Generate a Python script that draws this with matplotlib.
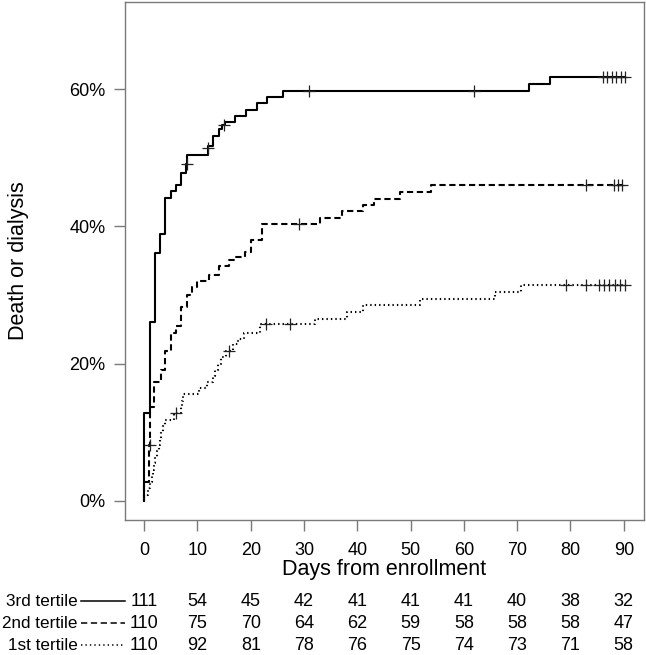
import matplotlib
matplotlib.use("Agg")
import matplotlib.pyplot as plt
import matplotlib.transforms as mtransforms
from matplotlib.lines import Line2D
from matplotlib.ticker import FuncFormatter

plt.rcParams['font.family'] = ['Liberation Sans', 'DejaVu Sans']
plt.rcParams['lines.scale_dashes'] = False

# ---- data (day, cumulative % after step) ----
t3_times = [0, 1.0, 2.0, 3.0, 4.0, 5.0, 6.0, 7.0, 7.9, 8.05, 12.05, 12.9, 14.0, 14.6, 15.2,
            17.1, 19.1, 21.1, 23.0, 26.1, 72.2, 76.1]
t3_vals = [12.8, 26.1, 36.1, 38.9, 44.1, 45.1, 46.0, 47.8, 49.1, 50.4, 51.7, 53.2, 54.2, 54.7, 55.2,
           56.1, 57.0, 58.0, 58.9, 59.8, 60.8, 61.8]
t3_cens_t = [8.0, 12.0, 15.0, 31.0, 61.9, 86.1, 86.9, 87.8, 88.6, 89.4, 90.2]
t3_cens_v = [49.1, 51.4, 54.7, 59.8, 59.8, 61.8, 61.8, 61.8, 61.8, 61.8, 61.8]

t2_times = [0, 0.95, 1.05, 1.9, 3.1, 4.0, 5.0, 6.0, 7.0, 8.0, 9.0, 10.0, 12.1, 14.0, 16.0,
            17.1, 19.0, 20.0, 22.1, 33.0, 37.1, 41.1, 43.2, 48.1, 53.9]
t2_vals = [2.7, 8.2, 13.6, 17.3, 19.1, 21.8, 24.5, 25.5, 28.2, 30.0, 31.2, 32.1, 32.9, 34.2, 35.1,
           35.6, 36.3, 38.0, 40.3, 41.2, 42.2, 43.1, 44.0, 45.0, 46.0]
t2_cens_t = [1.0, 29.1, 83.0, 88.2, 88.9, 89.7]
t2_cens_v = [8.2, 40.3, 46.0, 46.0, 46.0, 46.0]

t1_times = [0, 0.7, 1.0, 1.4, 1.7, 1.9, 2.1, 2.4, 2.8, 3.0, 3.2, 3.5, 3.9, 5.6, 7.0, 7.1, 7.2,
            10.2, 11.8, 13.0, 13.2, 13.9, 14.5, 15.3, 16.6, 17.6, 18.8, 21.8,
            32.1, 38.0, 41.1, 51.8, 65.8, 70.8]
t1_vals = [0.9, 1.8, 2.7, 3.6, 4.5, 5.5, 6.4, 7.3, 8.2, 9.1, 10.0, 10.9, 11.8, 12.8, 13.7, 14.6, 15.5,
           16.4, 17.3, 18.2, 19.1, 20.0, 20.9, 21.9, 22.8, 23.6, 24.4, 25.7,
           26.5, 27.5, 28.5, 29.4, 30.4, 31.4]
t1_cens_t = [6.0, 16.0, 22.9, 27.3, 79.1, 83.0, 85.3, 86.3, 87.3, 88.3, 89.3, 90.2]
t1_cens_v = [12.8, 21.9, 25.7, 25.7, 31.4, 31.4, 31.4, 31.4, 31.4, 31.4, 31.4, 31.4]

x_ticks = [0, 10, 20, 30, 40, 50, 60, 70, 80, 90]
y_ticks = [0, 20, 40, 60]
group_labels = ['3rd tertile', '2nd tertile', '1st tertile']
at_risk = [
    [111, 54, 45, 42, 41, 41, 41, 40, 38, 32],
    [110, 75, 70, 64, 62, 59, 58, 58, 58, 47],
    [110, 92, 81, 78, 76, 75, 74, 73, 71, 58],
]

# ---- figure ----
W, H = 646, 655
fig = plt.figure(figsize=(W / 100, H / 100), dpi=100)
ax = fig.add_axes([125 / W, 1 - 520 / H, 519 / W, 518 / H])

styles = [dict(linestyle='-'), dict(dashes=[4.5, 2.6]), dict(dashes=[1.0, 2.2])]
series = [(t3_times, t3_vals, t3_cens_t, t3_cens_v),
          (t2_times, t2_vals, t2_cens_t, t2_cens_v),
          (t1_times, t1_vals, t1_cens_t, t1_cens_v)]
for (tt, vv, ct, cv), st in zip(series, styles):
    end_t = max(ct)
    xs = [0] + list(tt) + [end_t]
    ys = [0] + list(vv) + [vv[-1]]
    ax.step(xs, ys, where='post', color='black', lw=1.5, **st)
    ax.plot(ct, cv, linestyle='none', marker='+', markersize=9, mew=0.9, color='#222222')

ax.set_xlim(-3.6, 93.8)
ax.set_ylim(-2.8, 72.7)
ax.set_xticks(x_ticks)
ax.set_yticks(y_ticks)
ax.yaxis.set_major_formatter(FuncFormatter(lambda v, p: f"{int(v)}%"))
for s in ax.spines.values():
    s.set_color('#7a7a7a')
    s.set_linewidth(1.0)
ax.tick_params(axis='both', direction='out', length=8, width=1.0, color='#7a7a7a',
               labelsize=13, pad=6)
ax.tick_params(axis='x', pad=8)
ax.set_xlabel('Days from enrollment', fontsize=15.5, labelpad=0)
ax.set_ylabel('Death or dialysis', fontsize=15.5, labelpad=29)

# ---- risk table ----
trans = mtransforms.blended_transform_factory(ax.transData, fig.transFigure)
row_y = [601, 623, 645]
for lab, counts, ry, st in zip(group_labels, at_risk, row_y, styles):
    yf = 1 - ry / H
    fig.text(78 / W, yf, lab, ha='right', va='center', fontsize=12.3)
    fig.add_artist(Line2D([81 / W, 125 / W], [yf, yf], transform=fig.transFigure,
                          color='black', lw=1.1, **st))
    for xv, c in zip(x_ticks, counts):
        fig.text(xv, yf, str(c), transform=trans, ha='center', va='center', fontsize=13)

fig.savefig('out.png', dpi=100)
